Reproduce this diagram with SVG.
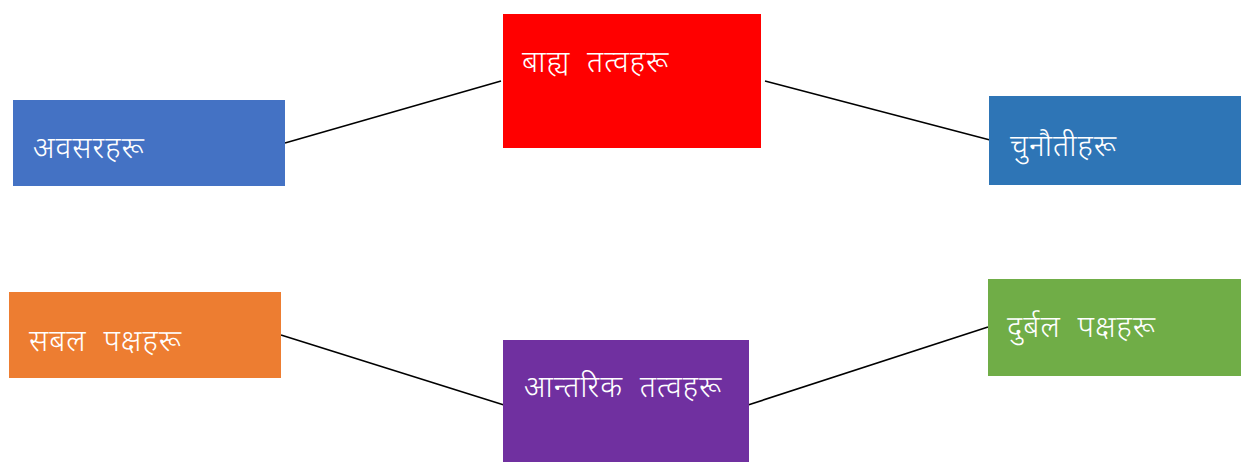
<svg xmlns="http://www.w3.org/2000/svg" width="1241" height="462" viewBox="0 0 1241 462">
<style>
.lbl{font-family:"Noto Sans Devanagari","Noto Serif Devanagari","Noto Sans","DejaVu Sans",sans-serif;font-size:30px;font-weight:300;letter-spacing:1px;word-spacing:8px;fill:#ffffff}
.edge{stroke:#000000;stroke-width:1.6;fill:none}
</style>
<rect width="1241" height="462" fill="#ffffff"/>
<g id="connectors">
<line class="edge" x1="285" y1="143" x2="501" y2="81"/>
<line class="edge" x1="765" y1="81" x2="990" y2="140"/>
<line class="edge" x1="281" y1="335" x2="504" y2="405"/>
<line class="edge" x1="748" y1="405" x2="988" y2="327"/>
</g>
<g id="n-opportunities">
<rect x="13" y="100" width="272" height="86" fill="#4472C4"/>
<text class="lbl" x="33" y="158">अवसरहरू</text>
</g>
<g id="n-external">
<rect x="503" y="14" width="258" height="134" fill="#FF0000"/>
<text class="lbl" x="522" y="72">बाह्य तत्वहरू</text>
</g>
<g id="n-challenges">
<rect x="989" y="96" width="252" height="89" fill="#2E75B6"/>
<text class="lbl" x="1010" y="156">चुनौतीहरू</text>
</g>
<g id="n-strengths">
<rect x="9" y="292" width="272" height="86" fill="#ED7D31"/>
<text class="lbl" x="29" y="351">सबल पक्षहरू</text>
</g>
<g id="n-internal">
<rect x="503" y="340" width="246" height="122" fill="#7030A0"/>
<text class="lbl" x="524" y="397">आन्तरिक तत्वहरू</text>
</g>
<g id="n-weaknesses">
<rect x="988" y="279" width="253" height="97" fill="#70AD47"/>
<text class="lbl" x="1007" y="337">दुर्बल पक्षहरू</text>
</g>
</svg>
